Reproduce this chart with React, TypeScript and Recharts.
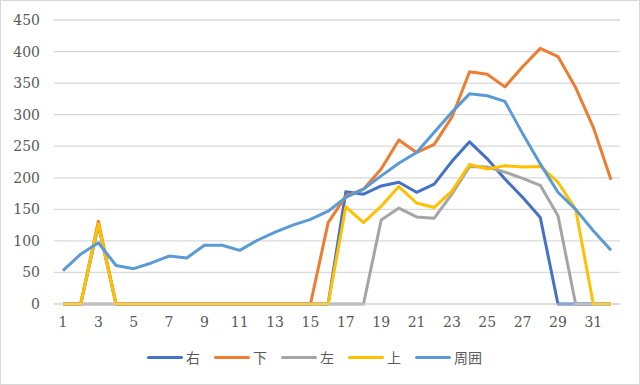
import React from 'react';
import { LineChart, Line, XAxis, YAxis, CartesianGrid, Legend } from 'recharts';

const days = Array.from({ length: 32 }, (_, i) => String(i + 1));

const migi = [0, 0, 125, 0, 0, 0, 0, 0, 0, 0, 0, 0, 0, 0, 0, 0, 178, 174, 187, 193, 177, 190, 226, 257, 230, 198, 169, 137, 0, 0, 0, 0];
const shita = [0, 0, 131, 0, 0, 0, 0, 0, 0, 0, 0, 0, 0, 0, 0, 129, 171, 182, 214, 260, 240, 253, 296, 368, 364, 344, 376, 405, 392, 343, 280, 197];
const hidari = [0, 0, 0, 0, 0, 0, 0, 0, 0, 0, 0, 0, 0, 0, 0, 0, 0, 0, 133, 152, 138, 136, 174, 218, 217, 209, 199, 188, 140, 0, 0, 0];
const ue = [0, 0, 127, 0, 0, 0, 0, 0, 0, 0, 0, 0, 0, 0, 0, 0, 154, 129, 155, 186, 160, 153, 179, 221, 214, 219, 217, 218, 193, 150, 0, 0];
const shuui = [53, 79, 97, 61, 56, 65, 76, 73, 93, 93, 85, 101, 114, 125, 134, 147, 169, 182, 203, 223, 240, 272, 304, 333, 330, 321, 270, 222, 177, 150, 116, 85];

const yTicks = [0, 50, 100, 150, 200, 250, 300, 350, 400, 450];

const series = [
  { key: 'migi', name: '右', color: '#4472C4' },
  { key: 'shita', name: '下', color: '#ED7D31' },
  { key: 'hidari', name: '左', color: '#A5A5A5' },
  { key: 'ue', name: '上', color: '#FFC000' },
  { key: 'shuui', name: '周囲', color: '#5B9BD5' },
];

const data = days.map((d, i) => ({
  day: d,
  migi: migi[i],
  shita: shita[i],
  hidari: hidari[i],
  ue: ue[i],
  shuui: shuui[i],
}));

const fontFamily = '"DejaVu Serif", "Liberation Serif", "Noto Sans CJK JP", serif';

const renderLegend = () => (
  <div style={{ display: 'flex', justifyContent: 'center', gap: 14, fontSize: 14, color: '#595959' }}>
    {series.map((s) => (
      <div key={s.key} style={{ display: 'flex', alignItems: 'center' }}>
        <span style={{ display: 'inline-block', width: 36, height: 3, borderRadius: 2, background: s.color, marginRight: 3 }} />
        <span style={{ fontFamily: '"Noto Sans CJK JP", sans-serif' }}>{s.name}</span>
      </div>
    ))}
  </div>
);

export default function App() {
  return (
    <div
      style={{
        position: 'absolute',
        left: 0,
        top: 0,
        width: 640,
        height: 385,
        boxSizing: 'border-box',
        border: '1px solid #D9D9D9',
        background: '#fff',
      }}
    >
      <LineChart width={638} height={383} data={data} margin={{ top: 19, right: 19, bottom: 13, left: 8 }}>
        <CartesianGrid horizontal vertical={false} stroke="#D9D9D9" strokeWidth={1.3} />
        <XAxis
          dataKey="day"
          interval={1}
          padding={{ left: 9, right: 9 }}
          axisLine={{ stroke: '#D9D9D9' }}
          tickLine={false}
          tick={{ fontSize: 14, fill: '#595959', fontFamily }}
          height={43}
          tickMargin={7}
        />
        <YAxis
          domain={[0, 450]}
          ticks={yTicks}
          axisLine={false}
          tickLine={false}
          width={45}
          tick={{ fontSize: 14, fill: '#595959', fontFamily }}
          tickMargin={8}
        />
        <Legend verticalAlign="bottom" height={24} content={renderLegend} />
        {series.map((s) => (
          <Line
            key={s.key}
            type="linear"
            dataKey={s.key}
            name={s.name}
            stroke={s.color}
            strokeWidth={3}
            strokeLinejoin="round"
            dot={false}
            isAnimationActive={false}
          />
        ))}
      </LineChart>
    </div>
  );
}
